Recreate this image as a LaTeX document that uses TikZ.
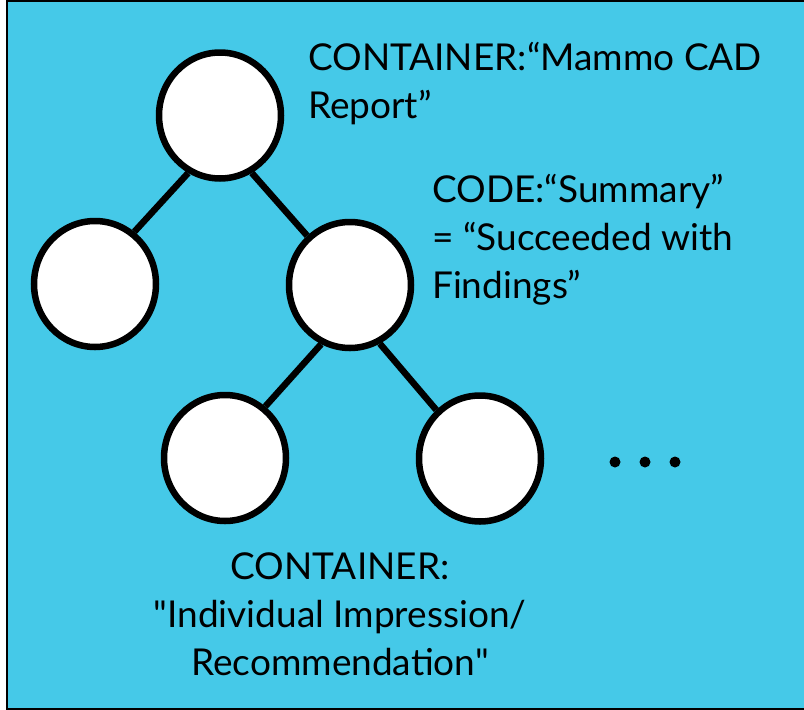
\documentclass[tikz,border=0pt]{standalone}
\usepackage{fontspec}
\setmainfont{Lato}[Ligatures=TeXOff]
\usetikzlibrary{shapes.geometric}
\definecolor{bgcyan}{RGB}{69,201,232}
\tikzset{
  treenode/.style={ellipse, draw=black, fill=white, line width=6.5pt, minimum width=122pt, minimum height=126pt, inner sep=0pt},
  edge/.style={draw=black, line width=6.5pt},
  lbl/.style={font=\fontsize{37}{48}\selectfont, inner sep=0pt, text=black},
  dotmark/.style={fill=black}
}
\begin{document}
\begin{tikzpicture}[x=1pt,y=-1pt]
\useasboundingbox (0,0) rectangle (804,710);
\fill[bgcyan] (7,1) rectangle (806,709);
\draw[line width=2pt] (806,1) -- (7,1) -- (7,709) -- (806,709);

\node[treenode] (root) at (220,115.5) {};
\node[treenode] (l1) at (95,284) {};
\node[treenode] (r1) at (350,285) {};
\node[treenode] (l2) at (225,458) {};
\node[treenode] (r2) at (480,458.5) {};

\draw[edge] (root.241) -- (l1.53);
\draw[edge] (root.299.5) -- (r1.131);
\draw[edge] (r1.244.5) -- (l2.52);
\draw[edge] (r1.297) -- (r2.132);

\node[lbl, anchor=base west, align=left] (t1) at (308,118) {CONTAINER:“Mammo CAD\\Report”};
\node[lbl, anchor=base west, align=left] (t2) at (432,298) {CODE:“Summary”\\= “Succeeded with\\Findings”};
\node[lbl, anchor=base, align=center] (t3) at (340,675) {CONTAINER:\\"Individual Impression/\\Recommendation"};

\fill[dotmark] (615,462) circle (5.5);
\fill[dotmark] (645,462) circle (5.5);
\fill[dotmark] (675,462) circle (5.5);
\end{tikzpicture}
\end{document}
